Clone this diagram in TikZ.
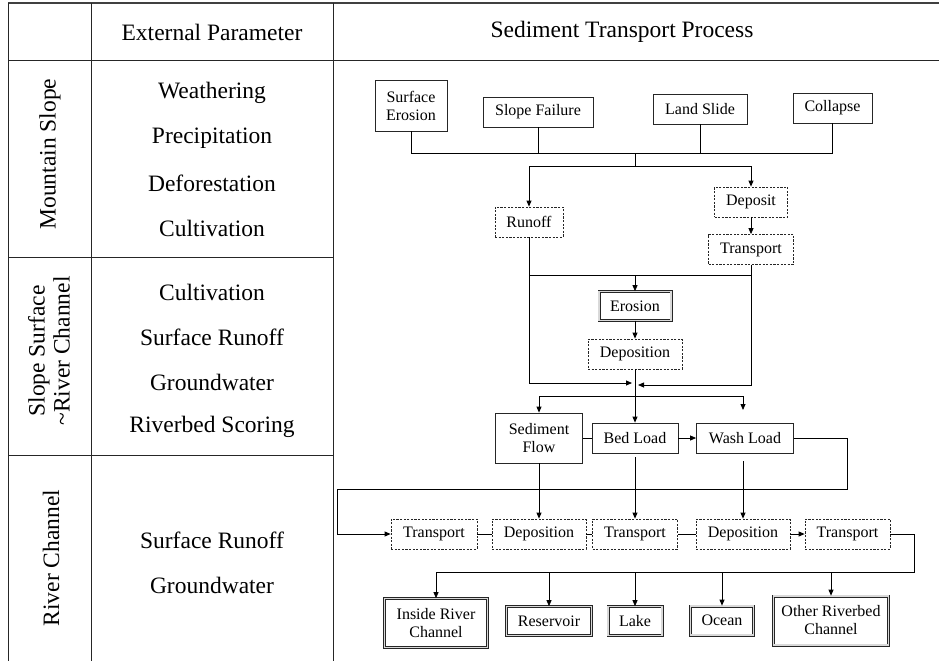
\documentclass[tikz,border=0pt]{standalone}
\usepackage{fontspec}
\setmainfont{Liberation Serif}
\usetikzlibrary{arrows.meta}
\tikzset{
  procbox/.style={draw=black!85, line width=0.8pt, inner sep=0pt, align=center,
    font=\fontsize{16}{18}\selectfont},
  dashbox/.style={procbox, dash pattern=on 2.2pt off 1.4pt},
  dblbox/.style={procbox, line width=0.7pt, double=gray!30, double distance=1.6pt},
  arr/.style={-{Triangle[length=6pt,width=5pt]}},
  tabtext/.style={font=\fontsize{23.5}{25}\selectfont, align=center},
}

\begin{document}
\begin{tikzpicture}[x=1pt,y=-1pt,line width=0.8pt]
    \useasboundingbox (0,0) rectangle (939,661);

    % table frame
    \draw[line width=1.5pt, black!75] (8,3) -- (939,3);
    \draw[black!85] (8,60) -- (939,60);
    \draw[black!85] (8,257) -- (333,257);
    \draw[black!85] (8,455) -- (333,455);
    \foreach \x in {8,91,333} {
        \draw[black!85] (\x,3) -- (\x,661);
        };

    % table texts
    \node[tabtext] (hdpar) at (212,32) {External Parameter};
    \node[tabtext] (hdproc) at (622,32) {Sediment Transport Process};
    \node[tabtext, rotate=90] (rowms) at (50,154) {Mountain Slope};
    \node[tabtext, rotate=90] (rowss) at (49,351) {Slope Surface\\\textasciitilde River Channel};
    \node[tabtext, rotate=90] (rowrc) at (51,558) {River Channel};
    \foreach \t [count=\i] in {Weathering,Precipitation,Deforestation,Cultivation} {
        \node[tabtext] (ms\i) at (212,48+45*\i) {\t};
        };
    \foreach \t [count=\i] in {Cultivation,Surface Runoff,Groundwater,Riverbed Scoring} {
        \node[tabtext] (ss\i) at (212,247+45*\i) {\t};
        };
    \foreach \t [count=\i] in {Surface Runoff,Groundwater} {
        \node[tabtext] (rc\i) at (212,495+45*\i) {\t};
        };

    % sources on the slope
    \node[procbox, minimum width=72, minimum height=51] (se) at (411,105.5) {Surface\\Erosion};
    \node[procbox, minimum width=110, minimum height=30] (sf) at (538,112) {Slope Failure};
    \node[procbox, minimum width=94, minimum height=30] (ls) at (700,109) {Land Slide};
    \node[procbox, minimum width=79, minimum height=30] (co) at (832.5,108) {Collapse};

    \coordinate (j1) at (635,153);
    \coordinate (j2) at (635,166);
    \draw (se.south) |- (j1);
    \draw (co.south) |- (j1);
    \draw (sf.south) -- (sf.south |- j1);
    \draw (ls.south) -- (ls.south |- j1);
    \draw (j1) -- (j2);

    \node[dashbox, minimum width=68, minimum height=30] (ro) at (529,222) {Runoff};
    \node[dashbox, minimum width=73, minimum height=30] (dp) at (751,202) {Deposit};
    \node[dashbox, minimum width=85, minimum height=30] (tr0) at (751,249.5) {Transport};
    \draw[arr] (j2) -| (ro.north);
    \draw[arr] (j2) -| (dp.north);
    \draw[arr] (dp) -- (tr0);

    % erosion loop
    \node[dblbox, minimum width=72, minimum height=29] (er) at (635,306) {Erosion};
    \node[dashbox, minimum width=94, minimum height=30] (de) at (635,354) {Deposition};
    \coordinate (j3) at (635,275);
    \coordinate (mL) at (632,383);
    \coordinate (mR) at (638,385);
    \draw (ro.south) |- (j3);
    \draw (tr0.south) |- (j3);
    \draw[arr] (j3) -- (er);
    \draw[arr] (er) -- (de);
    \draw[arr] (ro.south) |- (mL);
    \draw[arr] (tr0.south) |- (mR);

    % loads
    \node[procbox, minimum width=87, minimum height=50] (sfl) at (539,438) {Sediment\\Flow};
    \node[procbox, minimum width=86, minimum height=30] (bl) at (635,438) {Bed Load};
    \node[procbox, minimum width=97, minimum height=30] (wl) at (745,438) {Wash Load};
    \coordinate (j4) at (635,396);
    \coordinate (wltip) at (743,410);
    \draw (de.south) -- (j4);
    \draw[arr] (j4) -| (sfl.north);
    \draw[arr] (j4) -- (bl.north);
    \draw[arr] (j4) -| (wltip);
    \draw (sfl) -- (bl);
    \draw[arr] (bl) -- (wl);

    % river channel
    \node[dashbox, minimum width=86, minimum height=30] (t1) at (434,534) {Transport};
    \node[dashbox, minimum width=94, minimum height=30] (d1) at (539,534) {Deposition};
    \node[dashbox, minimum width=85, minimum height=30] (t2) at (635,534) {Transport};
    \node[dashbox, minimum width=94, minimum height=30] (d2) at (743,534) {Deposition};
    \node[dashbox, minimum width=85, minimum height=30] (t3) at (847.5,534) {Transport};
    \coordinate (k1) at (847,489);
    \coordinate (k2) at (337,534);
    \draw[arr] (wl.east) -| (k1) -| (k2) -- (t1.west);
    \draw[arr] (sfl.south) -- (d1.north);
    \draw[arr, shorten <=4pt] (bl.south) -- (t2.north);
    \draw[arr, shorten <=8pt] (wl.south -| d2.north) -- (d2.north);
    \draw (t1) -- (d1);
    \draw (d1) -- (t2);
    \draw (t2) -- (d2);
    \draw[arr] (d2) -- (t3);

    % destinations
    \node[dblbox, minimum width=103, minimum height=49] (irc) at (436,623) {Inside River\\Channel};
    \node[dblbox, minimum width=85, minimum height=29] (rv) at (549,621) {Reservoir};
    \node[dblbox, minimum width=54, minimum height=29] (lk) at (635,621) {Lake};
    \node[dblbox, minimum width=63, minimum height=29] (oc) at (722,620.5) {Ocean};
    \node[dblbox, minimum width=115, minimum height=49] (orc) at (831,620.5) {Other Riverbed\\Channel};
    \coordinate (k3) at (914,572);
    \draw[arr] (t3.east) -| (k3) -| (irc.north);
    \foreach \n in {rv,lk,oc,orc} {
        \draw[arr] (\n.north |- k3) -- (\n.north);
        };
\end{tikzpicture}
\end{document}
